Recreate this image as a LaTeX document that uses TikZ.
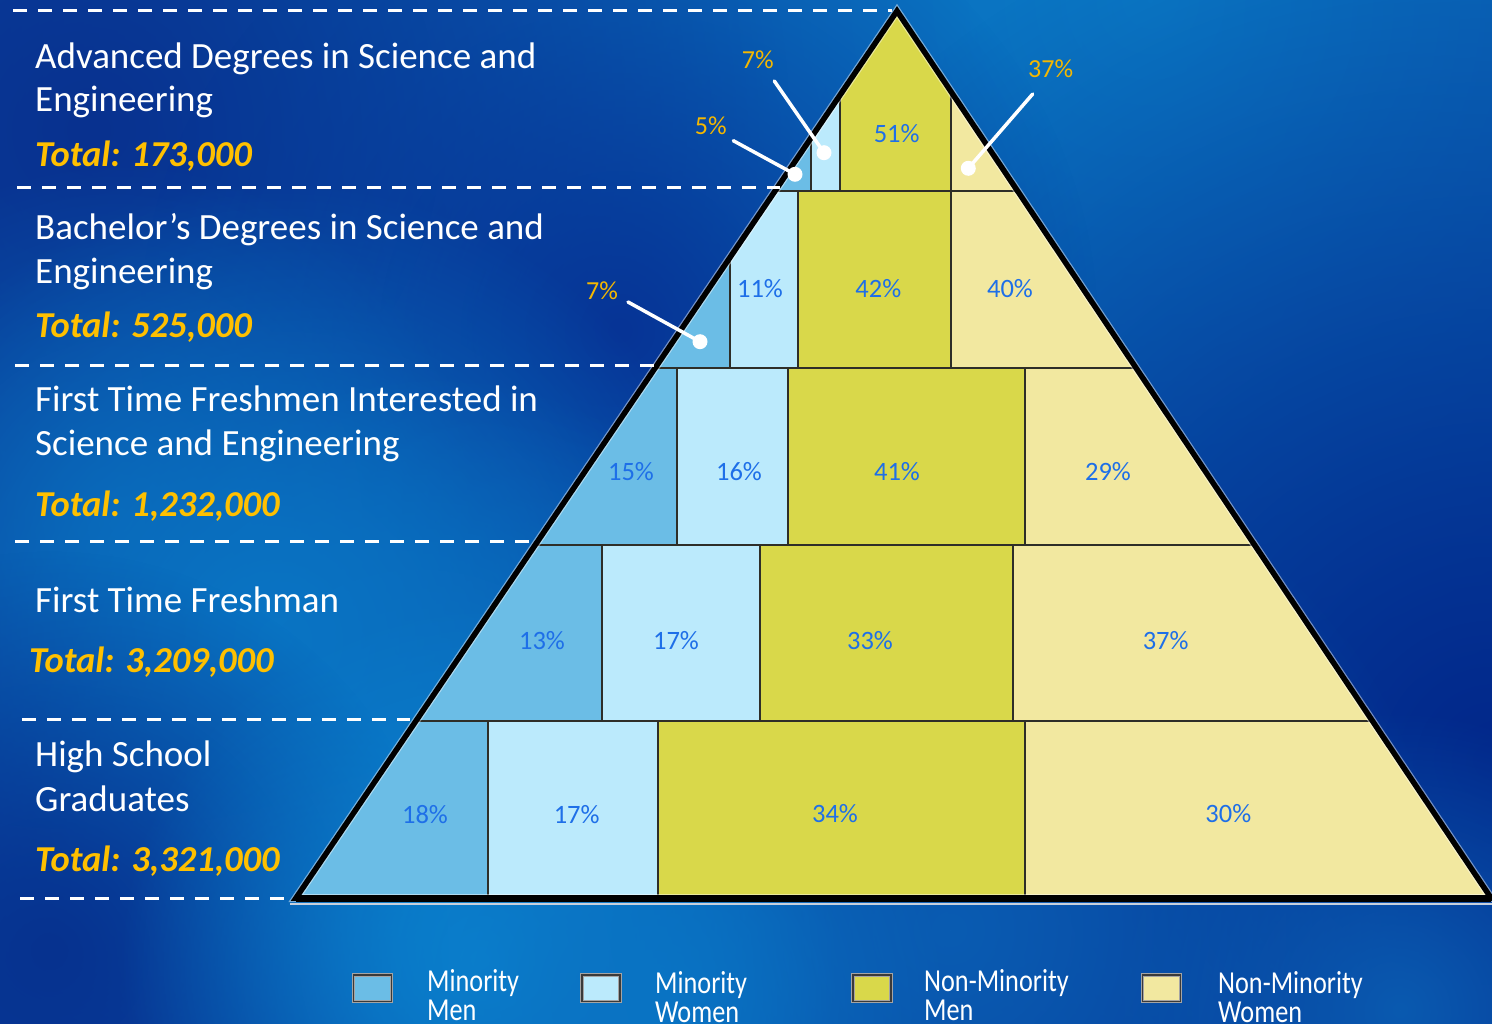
\documentclass[tikz,border=0pt]{standalone}
\usepackage{fontspec}
\usepackage{graphicx}
\setmainfont{Carlito}
\usetikzlibrary{fadings}
\definecolor{bgbase}{HTML}{0A3F9F}
\definecolor{mm}{HTML}{6BBDE6}
\definecolor{mw}{HTML}{BBEAFC}
\definecolor{nmm}{HTML}{D9D84A}
\definecolor{nmw}{HTML}{F2E8A0}
\definecolor{pct}{HTML}{1E6FE8}
\definecolor{callout}{HTML}{F5B800}
\definecolor{totalc}{HTML}{FFC000}
\definecolor{divider}{HTML}{2E2E28}
\definecolor{baselight}{HTML}{C8D0DC}
\definecolor{bevel}{HTML}{A4A4A4}
\definecolor{bevelin}{HTML}{3A3A3A}
\tikzfading[name=softblob, inner color=transparent!0, outer color=transparent!100]
\newcommand\legsq[1]{\scalebox{0.82}[1]{#1}}
\tikzset{
  title/.style={anchor=base west, inner sep=0pt, text=white, font=\fontsize{37}{44}\selectfont},
  total/.style={anchor=base west, inner sep=0pt, text=totalc, font=\fontsize{36.5}{44}\selectfont\bfseries\itshape},
  pctlabel/.style={inner sep=0pt, text=pct, font=\fontsize{26.5}{30}\selectfont},
  calloutlabel/.style={inner sep=0pt, text=callout, font=\fontsize{26}{30}\selectfont},
  calloutline/.style={draw=white, line width=3.5pt, line cap=round},
  dotmark/.style={circle, fill=white, minimum size=15pt, inner sep=0pt},
  guide/.style={draw=white, line width=3pt, dash pattern=on 14pt off 11pt},
  divline/.style={draw=divider, line width=2.6pt},
  legbox/.style={draw=bevel, line width=3.5pt, minimum width=38pt, minimum height=26.5pt, inner sep=0pt},
  legin/.style={draw=bevelin, line width=1.4pt},
  legtext/.style={anchor=base west, inner sep=0pt, text=white, font=\fontsize{32}{30}\selectfont},
  blob/.style={path fading=softblob},
}
\begin{document}
\begin{tikzpicture}[x=1pt,y=-1pt]
\useasboundingbox (0,0) rectangle (1492,1024);
\clip (0,0) rectangle (1492,1024);
% ---------- background ----------
\fill[bgbase] (0,0) rectangle (1492,1024);
\fill[blob, color={rgb,255:red,10;green,93;blue,181}] (600,0) circle (800pt);
\fill[blob, color={rgb,255:red,10;green,122;blue,198}] (1150,0) circle (1300pt);
\fill[blob, color={rgb,255:red,2;green,39;blue,138}] (1492,760) circle (900pt);
\fill[blob, color={rgb,255:red,8;green,49;blue,143}] (90,130) circle (700pt);
\fill[blob, color={rgb,255:red,6;green,52;blue,150}] (620,330) circle (480pt);
\fill[blob, color={rgb,255:red,10;green,92;blue,176}] (120,520) circle (360pt);
\fill[blob, color={rgb,255:red,10;green,120;blue,198}] (280,640) circle (460pt);
\fill[blob, color={rgb,255:red,10;green,114;blue,194}] (420,770) circle (400pt);
\fill[blob, color={rgb,255:red,6;green,50;blue,143}] (50,950) circle (400pt);
\fill[blob, color={rgb,255:red,10;green,92;blue,178}] (950,930) circle (500pt);
\fill[blob, color={rgb,255:red,10;green,132;blue,208}] (480,960) circle (360pt);
\fill[blob, color={rgb,255:red,10;green,116;blue,196}] (650,1000) circle (300pt);
\fill[blob, color={rgb,255:red,10;green,90;blue,176}] (1400,1010) circle (300pt);
% ---------- pyramid ----------
\coordinate (apex) at (897,11);
\coordinate (bl) at (296,898);
\coordinate (br) at (1491,898);
\begin{scope}
\clip (apex) -- (bl) -- (br) -- cycle;
% tier 1
\fill[mm] (200,11) rectangle (811,191);
\fill[mw] (811,11) rectangle (840,191);
\fill[nmm] (840,11) rectangle (951,191);
\fill[nmw] (951,11) rectangle (1600,191);
% tier 2
\fill[mm] (200,191) rectangle (730,368);
\fill[mw] (730,191) rectangle (798,368);
\fill[nmm] (798,191) rectangle (951,368);
\fill[nmw] (951,191) rectangle (1600,368);
% tier 3
\fill[mm] (200,368) rectangle (677,545);
\fill[mw] (677,368) rectangle (788,545);
\fill[nmm] (788,368) rectangle (1025,545);
\fill[nmw] (1025,368) rectangle (1600,545);
% tier 4
\fill[mm] (200,545) rectangle (602,721);
\fill[mw] (602,545) rectangle (760,721);
\fill[nmm] (760,545) rectangle (1013,721);
\fill[nmw] (1013,545) rectangle (1600,721);
% tier 5
\fill[mm] (200,721) rectangle (488,898);
\fill[mw] (488,721) rectangle (658,898);
\fill[nmm] (658,721) rectangle (1025,898);
\fill[nmw] (1025,721) rectangle (1600,898);
% dividers
\draw[divline] (811,11) -- (811,191) (840,11) -- (840,191) (951,11) -- (951,191);
\draw[divline] (730,191) -- (730,368) (798,191) -- (798,368) (951,191) -- (951,368);
\draw[divline] (677,368) -- (677,545) (788,368) -- (788,545) (1025,368) -- (1025,545);
\draw[divline] (602,545) -- (602,721) (760,545) -- (760,721) (1013,545) -- (1013,721);
\draw[divline] (488,721) -- (488,898) (658,721) -- (658,898) (1025,721) -- (1025,898);
\draw[divline] (200,191) -- (1600,191) (200,368) -- (1600,368) (200,545) -- (1600,545) (200,721) -- (1600,721);
\end{scope}
% outline
\draw[white, opacity=0.45, line width=8pt, line join=miter] (apex) -- (bl) -- (br) -- cycle;
\draw[black, line width=5.5pt, line join=miter] (apex) -- (bl) -- (br) -- cycle;
\draw[black, line width=7pt] (bl) -- (br);
\draw[baselight, line width=2pt] (290,904) -- (1492,904);
% ---------- dashed guides ----------
\coordinate (g1s) at (13,11);  \coordinate (g1e) at (892,11);
\coordinate (g2s) at (17,188); \coordinate (g2e) at (780,188);
\coordinate (g3s) at (15,366); \coordinate (g3e) at (655,366);
\coordinate (g4s) at (15,541); \coordinate (g4e) at (537,541);
\coordinate (g5s) at (22,719); \coordinate (g5e) at (410,719);
\coordinate (g6s) at (20,898); \coordinate (g6e) at (292,898);
\draw[guide] (g1s) -- (g1e);
\draw[guide] (g2s) -- (g2e);
\draw[guide] (g3s) -- (g3e);
\draw[guide] (g4s) -- (g4e);
\draw[guide] (g5s) -- (g5e);
\draw[guide] (g6s) -- (g6e);
% ---------- left titles ----------
\node[title] (t1a) at (35,68.3) {Advanced Degrees in Science and};
\node[title] (t1b) at (35,111.7) {Engineering};
\node[total] (t1c) at (35,166.7) {Total: 173,000};
\node[title] (t2a) at (35,239.3) {Bachelor’s Degrees in Science and};
\node[title] (t2b) at (35,284) {Engineering};
\node[total] (t2c) at (35,337.3) {Total: 525,000};
\node[title] (t3a) at (35,411.8) {First Time Freshmen Interested in};
\node[title] (t3b) at (35,455.7) {Science and Engineering};
\node[total] (t3c) at (35,516.4) {Total: 1,232,000};
\node[title] (t4a) at (35,612.9) {First Time Freshman};
\node[total] (t4c) at (29,672.9) {Total: 3,209,000};
\node[title] (t5a) at (35,766.4) {High School};
\node[title] (t5b) at (35,811.8) {Graduates};
\node[total] (t5c) at (35,871.4) {Total: 3,321,000};
% ---------- percentages ----------
\node[pctlabel] (p1c) at (896.7,133.3) {51\%};
\node[pctlabel] (p2b) at (760,288.3) {11\%};
\node[pctlabel] (p2c) at (878.3,288.3) {42\%};
\node[pctlabel] (p2d) at (1010,288.3) {40\%};
\node[pctlabel] (p3a) at (631,472) {15\%};
\node[pctlabel] (p3b) at (739,472) {16\%};
\node[pctlabel] (p3c) at (897,472) {41\%};
\node[pctlabel] (p3d) at (1108,472) {29\%};
\node[pctlabel] (p4a) at (542,641) {13\%};
\node[pctlabel] (p4b) at (676,641) {17\%};
\node[pctlabel] (p4c) at (870,641) {33\%};
\node[pctlabel] (p4d) at (1165.7,640.7) {37\%};
\node[pctlabel] (p5a) at (425,814.3) {18\%};
\node[pctlabel] (p5b) at (576.7,814.3) {17\%};
\node[pctlabel] (p5c) at (835,814) {34\%};
\node[pctlabel] (p5d) at (1228.3,813.3) {30\%};
% ---------- callouts ----------
\node[calloutlabel] (c1) at (757.7,60) {7\%};
\node[calloutlabel] (c2) at (710.7,126) {5\%};
\node[calloutlabel] (c3) at (1050.7,69) {37\%};
\node[calloutlabel] (c4) at (602,291) {7\%};
\node[dotmark] (d1) at (824,152.7) {};
\node[dotmark] (d2) at (795,174.3) {};
\node[dotmark] (d3) at (968.3,168.3) {};
\node[dotmark] (d4) at (700,341.7) {};
\coordinate (c1s) at (774.3,81);
\coordinate (c2s) at (733.3,140.7);
\coordinate (c3s) at (1032.7,94);
\coordinate (c4s) at (628,302);
\draw[calloutline] (c1s) -- (d1.center);
\draw[calloutline] (c2s) -- (d2.center);
\draw[calloutline] (c3s) -- (d3.center);
\draw[calloutline] (c4s) -- (d4.center);
% ---------- legend ----------
\node[legbox, fill=mm] (k1) at (372.5,988.3) {};
\node[legbox, fill=mw] (k2) at (601,988.3) {};
\node[legbox, fill=nmm] (k3) at (872,988.3) {};
\node[legbox, fill=nmw] (k4) at (1161.5,988.3) {};
\foreach \k in {k1,k2,k3,k4}{
  \draw[legin] ([shift={(1.8pt,-1.8pt)}]\k.north west) rectangle ([shift={(-1.8pt,1.8pt)}]\k.south east);
}
\node[legtext] (k1a) at (427,991.7) {\legsq{Minority}};
\node[legtext] (k1b) at (427,1020) {\legsq{Men}};
\node[legtext] (k2a) at (655,993.3) {\legsq{Minority}};
\node[legtext] (k2b) at (655,1022) {\legsq{Women}};
\node[legtext] (k3a) at (924,991.7) {\legsq{Non-Minority}};
\node[legtext] (k3b) at (924,1020) {\legsq{Men}};
\node[legtext] (k4a) at (1218,993.3) {\legsq{Non-Minority}};
\node[legtext] (k4b) at (1218,1022) {\legsq{Women}};
\end{tikzpicture}
\end{document}
